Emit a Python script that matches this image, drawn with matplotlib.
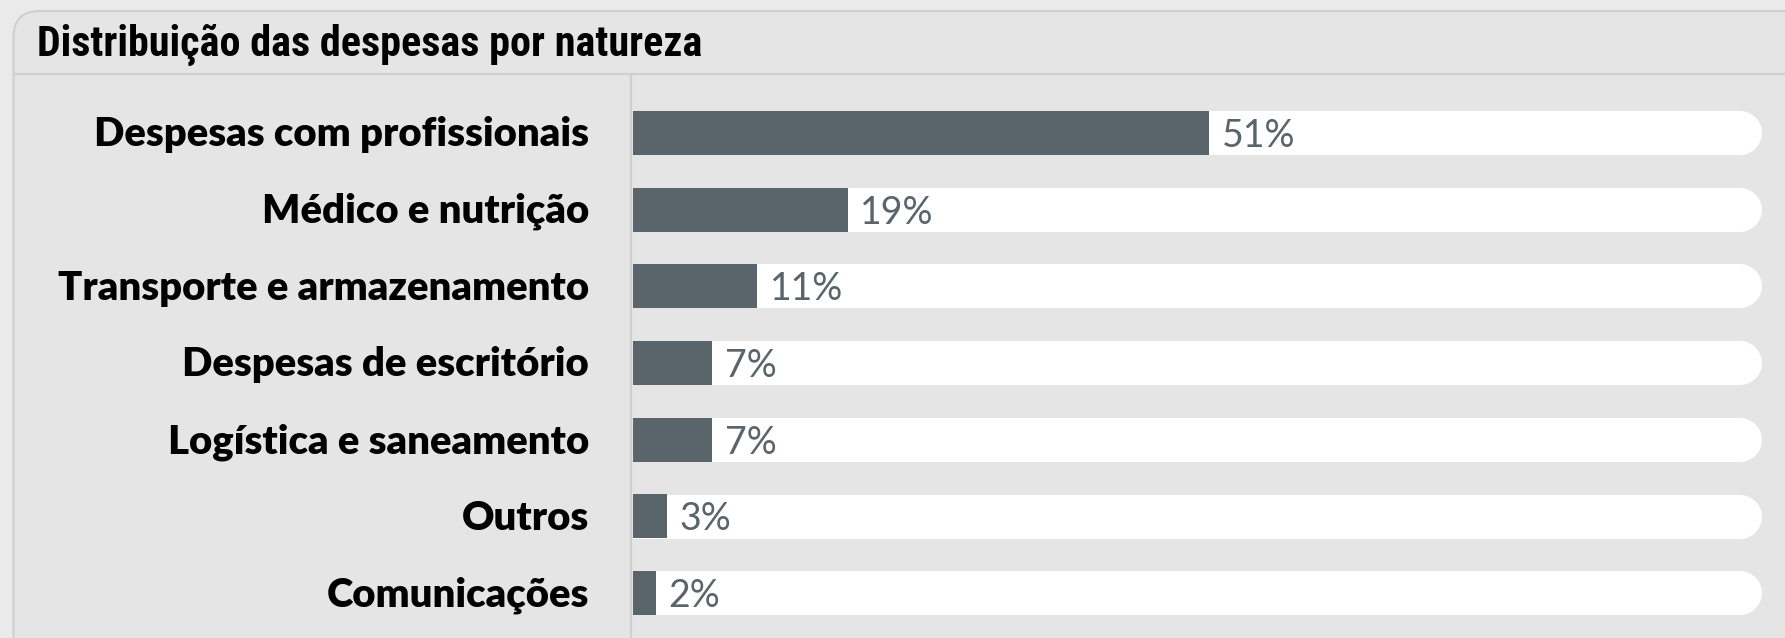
import matplotlib.pyplot as plt
from matplotlib.patches import FancyBboxPatch
from matplotlib import font_manager

categorias = ["Despesas com profissionais", "Médico e nutrição", "Transporte e armazenamento",
              "Despesas de escritório", "Logística e saneamento", "Outros", "Comunicações"]
valores = [51, 19, 11, 7, 7, 3, 2]
titulo = "Distribuição das despesas por natureza"

W, H = 1785, 638
cor_barra = "#59646b"
cor_fundo = "#e5e5e5"
cor_borda = "#cfcfcf"

# fonte estreita para o título
nomes = {f.name for f in font_manager.fontManager.ttflist}
fonte_titulo = "Roboto"
for n in ["Roboto Condensed", "Liberation Sans Narrow", "DejaVu Sans Condensed"]:
    if n in nomes:
        fonte_titulo = n
        break

fig = plt.figure(figsize=(W / 100, H / 100), dpi=100)
fig.patch.set_facecolor("#eaeaea")

# moldura em coordenadas de pixel
bg = fig.add_axes([0, 0, 1, 1])
bg.set_xlim(0, W)
bg.set_ylim(H, 0)
bg.axis("off")
bg.add_patch(FancyBboxPatch((13.5, 11), 2000, 800, boxstyle="round,pad=0,rounding_size=26",
                            facecolor=cor_fundo, edgecolor=cor_borda, lw=1.5))
bg.plot([13.5, W], [73.5, 73.5], color=cor_borda, lw=1.6)
bg.plot([631, 631], [73.5, H], color=cor_borda, lw=1.6)
bg.text(37, 56, titulo, fontsize=30.3, fontweight="bold", family=[fonte_titulo, "DejaVu Sans"],
        color="black", ha="left", va="baseline")

# área das barras
passo = 76.7
left, width = 633, 1152
top = 133 - passo / 2
height = passo * len(categorias)
ax = fig.add_axes([left / W, (H - top - height) / H, width / W, height / H])
ax.set_xlim(0, 102)
ax.set_ylim(len(categorias) - 0.5, -0.5)
ax.axis("off")

px = width / 102.0
alt_px = 44
raio = (alt_px / 2) / px
lw_pt = alt_px * 72 / 100

ypos = list(range(len(categorias)))
for i in ypos:
    ax.plot([0, 100 - raio], [i, i], color="white", lw=lw_pt, solid_capstyle="round", zorder=1)
ax.barh(ypos, valores, height=alt_px / passo, color=cor_barra, zorder=3)

lab_x = (589 - left) / width
for i, (c, v) in enumerate(zip(categorias, valores)):
    ax.text(lab_x, i + 13.3 / passo, c, transform=ax.get_yaxis_transform(), ha="right",
            va="baseline", fontsize=28.8, fontweight="heavy", family=["Lato", "DejaVu Sans"],
            color="black", clip_on=False)
    ax.text(v + 12.5 / px, i + 14 / passo, f"{v}%", ha="left", va="baseline", fontsize=27,
            fontweight="normal", family=["Lato", "DejaVu Sans"], color=cor_barra, zorder=4)

fig.savefig("out.png", dpi=100, facecolor=fig.get_facecolor())
